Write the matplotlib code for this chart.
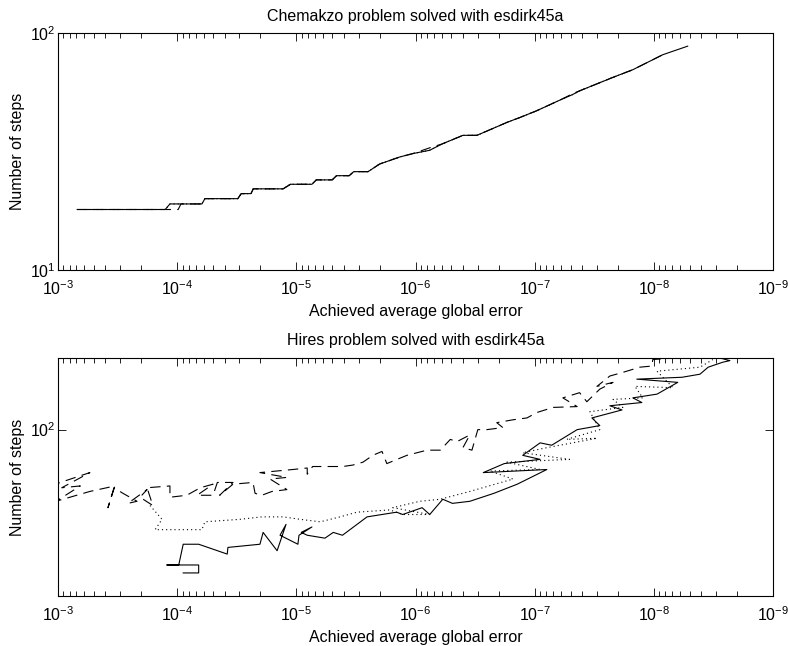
import matplotlib
matplotlib.use("Agg")
import matplotlib.pyplot as plt
from matplotlib.ticker import NullLocator, FixedLocator, LogLocator

plt.rcParams['font.family'] = ['Liberation Sans', 'DejaVu Sans']
plt.rcParams['lines.scale_dashes'] = False

# ---------------- Chemakzo (top) ----------------
chem_solid_err = [6.9e-4, 1.26e-4, 1.15e-4, 6.2e-5, 5.85e-5, 3.1e-5, 2.9e-5, 2.4e-5, 2.3e-5,
                  1.29e-5, 1.12e-5, 7.4e-6, 6.8e-6, 5.0e-6, 4.6e-6, 3.6e-6, 3.3e-6, 2.5e-6,
                  2.0e-6, 1.35e-6, 1.05e-6, 7.6e-7, 6.0e-7, 4.0e-7, 3.05e-7, 1.7e-7, 1.33e-7,
                  9.6e-8, 6.2e-8, 4.8e-8, 4.2e-8, 2.2e-8, 1.5e-8, 8.4e-9, 5.2e-9]
chem_solid_steps = [18, 18, 19, 19, 20, 20, 21, 21, 22,
                    22, 23, 23, 24, 24, 25, 25, 26, 26,
                    28, 30, 31, 32, 34, 37, 37, 42, 44,
                    47, 52, 55, 57, 65, 70, 81, 88]
chem_dash_err = [6.9e-4, 9.8e-5, 9.3e-5, 6.2e-5, 5.85e-5, 3.1e-5, 2.9e-5, 2.4e-5, 2.3e-5,
                 1.29e-5, 1.12e-5, 7.4e-6, 6.8e-6, 5.0e-6, 4.6e-6, 3.6e-6, 3.3e-6, 2.5e-6,
                 2.0e-6, 1.35e-6, 1.05e-6, 7.3e-7, 6.0e-7, 4.0e-7, 3.05e-7, 1.7e-7, 1.33e-7,
                 9.6e-8, 6.2e-8, 4.6e-8, 4.2e-8, 2.2e-8, 1.5e-8, 8.4e-9]
chem_dash_steps = [18, 18, 19, 19, 20, 20, 21, 21, 22,
                   22, 23, 23, 24, 24, 25, 25, 26, 26,
                   28, 30, 31, 33, 34, 37, 37, 42, 44,
                   47, 52, 56, 57, 65, 70, 81]
chem_dot_err = [6.0e-4, 1.26e-4, 1.15e-4, 6.2e-5, 5.85e-5, 3.1e-5, 2.9e-5, 2.4e-5, 2.3e-5,
                1.29e-5, 1.12e-5, 7.4e-6, 6.8e-6, 5.0e-6, 4.6e-6, 3.6e-6, 3.3e-6, 2.5e-6,
                2.0e-6, 1.35e-6, 1.05e-6, 7.6e-7, 6.0e-7, 4.0e-7, 3.05e-7, 1.7e-7, 1.33e-7,
                9.6e-8, 6.2e-8, 4.8e-8, 4.2e-8, 2.2e-8, 1.5e-8]
chem_dot_steps = [18, 18, 19, 19, 20, 20, 21, 21, 22,
                  22, 23, 23, 24, 24, 25, 25, 26, 26,
                  28, 30, 31, 32, 34, 37, 37, 42, 44,
                  47, 52, 55, 57, 65, 70]

# ---------------- Hires (bottom) ----------------
hires_solid_err = [8.9e-5, 6.6e-5, 6.6e-5, 1.22e-4, 9.7e-5, 8.9e-5, 6.6e-5, 3.8e-5, 3.75e-5,
                   2.02e-5, 1.9e-5, 1.45e-5, 1.22e-5, 1.37e-5, 9.7e-6, 9.5e-6, 7.4e-6, 9.1e-6,
                   8.1e-6, 5.75e-6, 4.9e-6, 4.1e-6, 2.55e-6, 1.44e-6, 1.28e-6, 8.8e-7, 7.6e-7,
                   5.9e-7, 4.9e-7, 3.5e-7, 2.2e-7, 1.4e-7, 7.9e-8, 2.7e-7, 1.8e-7, 9.0e-8,
                   1.26e-7, 9.0e-8, 7.2e-8, 4.4e-8, 2.84e-8, 3.31e-8, 1.85e-8, 2.34e-8, 1.26e-8,
                   1.5e-8, 9.4e-9, 6.3e-9, 1.39e-8, 5.8e-9, 4.1e-9, 3.5e-9, 2.64e-9, 2.3e-9,
                   2.9e-9]
hires_solid_steps = [25, 25, 27, 27, 27, 33, 33, 30, 32,
                     33, 37, 31, 40, 36, 33, 36, 39, 37,
                     36, 35, 37, 36, 43, 45, 44, 47, 44,
                     51, 49, 50, 54, 59, 68, 66, 72, 75,
                     78, 88, 86, 100, 104, 112, 121, 126, 130,
                     136, 141, 158, 163, 166, 171, 183, 192, 195,
                     201]

hires_dot_err = [1.69e-4, 1.34e-4, 1.53e-4, 6.2e-5, 5.85e-5, 2.97e-5, 1.95e-5, 1.29e-5, 9.3e-6,
                 6.3e-6, 4.3e-6, 3.1e-6, 1.64e-6, 1.28e-6, 7.6e-7, 1.55e-6, 9.2e-7, 6.2e-7,
                 3.5e-7, 1.52e-7, 2.38e-7, 9.0e-8, 1.71e-7, 5.1e-8, 1.26e-7, 7.9e-8, 3.0e-8,
                 5.4e-8, 2.84e-8, 3.44e-8, 1.82e-8, 2.2e-8, 1.24e-8, 1.44e-8, 6.9e-9, 9.4e-9,
                 4.1e-9, 3.2e-9]
hires_dot_steps = [48, 42, 38, 38, 41, 42, 43, 43, 42,
                   41, 43, 45, 46, 44, 44, 47, 50, 51,
                   55, 62, 67, 68, 73, 75, 80, 84, 92,
                   91, 100, 119, 124, 134, 136, 152, 150, 176,
                   183, 197]

hires_dash_err = [1.17e-3, 5.4e-4, 9.3e-4, 6.5e-4, 1.04e-3, 5.4e-4, 3.33e-4, 3.81e-4, 3.39e-4,
                  2.85e-4, 2.17e-4, 2.59e-4, 1.79e-4, 2.05e-4, 1.6e-4, 1.79e-4, 1.15e-4, 1.15e-4,
                  8.3e-5, 6.4e-5, 5.0e-5, 6.8e-5, 5.0e-5, 4.6e-5, 3.4e-5, 4.4e-5, 3.4e-5,
                  2.31e-5, 2.22e-5, 1.95e-5, 1.6e-5, 1.2e-5, 1.66e-5, 1.2e-5, 2.02e-5, 1.07e-5,
                  8.1e-6, 8.1e-6, 7.3e-6, 5.5e-6, 4.07e-6, 3.35e-6, 2.76e-6, 2.28e-6, 1.91e-6,
                  1.74e-6, 1.43e-6, 1.18e-6, 8.0e-7, 6.2e-7, 5.1e-7, 4.5e-7, 3.5e-7, 4.0e-7,
                  3.36e-7, 3.0e-7, 2.52e-7, 1.85e-7, 2.08e-7, 1.52e-7, 1.16e-7, 9.6e-8, 7.0e-8,
                  4.4e-8, 5.8e-8, 4.2e-8, 3.65e-8, 2.84e-8, 2.2e-8, 3.0e-8, 2.34e-8, 1.82e-8,
                  1.31e-8, 1.04e-8, 1.02e-8, 7.8e-9]
hires_dash_steps = [58, 66, 57, 58, 50, 55, 58, 47, 57,
                    54, 50, 49, 56, 52, 48, 57, 58, 52,
                    53, 57, 59, 53, 53, 60, 60, 53, 59,
                    60, 54, 53, 55, 56, 62, 63, 66, 68,
                    69, 65, 70, 70, 70, 71, 73, 78, 81,
                    72, 75, 78, 82, 82, 91, 89, 95, 84,
                    82, 100, 100, 102, 107, 110, 112, 118, 124,
                    125, 136, 143, 131, 148, 158, 152, 168, 174,
                    183, 185, 197, 199]

titles = ["Chemakzo problem solved with esdirk45a", "Hires problem solved with esdirk45a"]
xlabel = "Achieved average global error"
ylabel = "Number of steps"

FS = 11.5
LW = 0.8
DASH = (0, (7.5, 4.5))
DOT = (0, (0.8, 2.2))

fig = plt.figure(figsize=(7.88, 6.46), dpi=100)
ax1 = fig.add_axes([58/788, 1-270/646, 715/788, 237/646])
ax2 = fig.add_axes([58/788, 1-596/646, 715/788, 238/646])

ax1.plot(chem_dot_err, chem_dot_steps, color='k', lw=LW, linestyle=DOT)
ax1.plot(chem_dash_err, chem_dash_steps, color='k', lw=LW, linestyle=DASH)
ax1.plot(chem_solid_err, chem_solid_steps, color='k', lw=LW, linestyle='-')

ax2.plot(hires_dot_err, hires_dot_steps, color='k', lw=LW, linestyle=DOT)
ax2.plot(hires_dash_err, hires_dash_steps, color='k', lw=LW, linestyle=DASH)
ax2.plot(hires_solid_err, hires_solid_steps, color='k', lw=LW, linestyle='-')

for ax, title, ylim in [(ax1, titles[0], (10, 100)), (ax2, titles[1], (20, 200))]:
    ax.set_xscale('log')
    ax.set_yscale('log')
    ax.set_xlim(1e-3, 1e-9)
    ax.set_ylim(*ylim)
    ax.xaxis.set_major_locator(LogLocator(base=10, numticks=20))
    ax.xaxis.set_minor_locator(LogLocator(base=10, subs=range(2, 10), numticks=100))
    ax.yaxis.set_minor_locator(NullLocator())
    ax.tick_params(which='both', direction='in', top=True, right=True,
                   labelsize=FS, width=0.6)
    ax.tick_params(which='major', length=6)
    ax.tick_params(which='minor', length=3.5)
    ax.tick_params(axis='x', which='major', pad=7)
    ax.tick_params(axis='y', which='major', pad=1.5)
    for s in ax.spines.values():
        s.set_linewidth(0.8)
    ax.set_title(title, fontsize=FS, pad=9)
    ax.set_xlabel(xlabel, fontsize=FS, labelpad=4)
    ax.set_ylabel(ylabel, fontsize=FS, labelpad=4)

ax2.yaxis.set_major_locator(FixedLocator([100]))

fig.savefig("out.png", dpi=100)
